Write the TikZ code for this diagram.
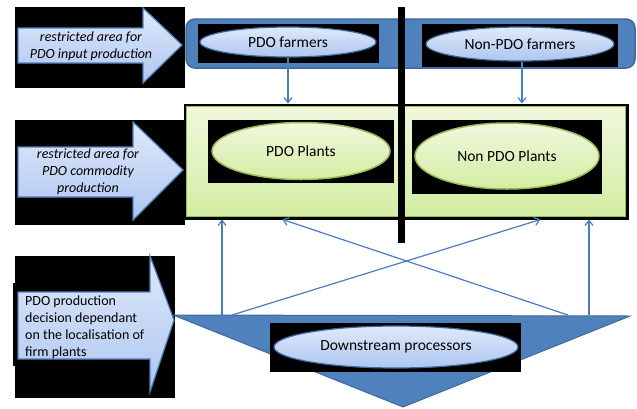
\documentclass[tikz,border=0pt]{standalone}
\usepackage{fontspec}
\setmainfont{Carlito}
\usetikzlibrary{arrows.meta,shapes.geometric}
\definecolor{acc}{HTML}{4F81BD}
\definecolor{accd}{HTML}{3C6A9E}
\definecolor{lb1}{HTML}{DFE9FA}
\definecolor{lb2}{HTML}{AEC6F0}
\definecolor{lg1}{HTML}{F0F8DE}
\definecolor{lg2}{HTML}{D3EDA2}
\definecolor{gbd}{HTML}{9BBB59}
\definecolor{conn}{HTML}{4A7EBB}
\begin{document}
\begin{tikzpicture}[x=1pt,y=-1pt,
  blk/.style={fill=black,draw=none},
  bigarrow/.style={top color=lb1,bottom color=lb2,draw=acc,line width=1.2},
  blueell/.style={ellipse,inner sep=0,top color=lb1,bottom color=lb2,draw=accd,line width=1.2,font=\fontsize{15.5}{18}\selectfont},
  greenell/.style={ellipse,inner sep=0,top color=lg1,bottom color=lg2,draw=gbd,line width=1.5,font=\fontsize{15.5}{18}\selectfont},
  atext/.style={inner sep=0,font=\fontsize{14}{17}\selectfont},
  conline/.style={draw=conn,line width=1.2,-{Straight Barb[length=5pt,width=8pt]}}]
\useasboundingbox[fill=white] (0,0) rectangle (637,408);

% left arrows
\fill[blk] (15,7) rectangle (185,88);
\path[bigarrow] (18,28) -- (143,28) -- (143,8) -- (182,45) -- (143,83) -- (143,63) -- (18,63) -- cycle;
\node[atext,align=center] (a1) at (91,46) {\itshape restricted area for\\\itshape PDO input production};

\fill[blk] (15,120) rectangle (185,225);
\path[bigarrow] (18,147) -- (133,147) -- (133,122) -- (183,170) -- (133,220) -- (133,197) -- (18,197) -- cycle;
\node[atext,align=center] (a2) at (88,172) {\itshape restricted area for\\\itshape PDO commodity\\\itshape production};

\fill[blk] (15,256) rectangle (175,398);
\fill[blk] (13,283) rectangle (20,366);
\path[bigarrow] (18,292) -- (150,292) -- (150,256) -- (174,320) -- (150,392) -- (150,359) -- (18,359) -- cycle;
\node[atext,align=left,anchor=west] (a3) at (25,327) {PDO production\\decision dependant\\on the localisation of\\firm plants};

% top farmers band
\draw[fill=acc,draw=accd,line width=1.5,rounded corners=9] (186,19) rectangle (635,68);
\fill[blk] (198,24) rectangle (379,63);
\fill[blk] (422,24) rectangle (618,67);
\node[blueell,minimum width=176,minimum height=30] (pf) at (288,42) {PDO farmers};
\node[blueell,minimum width=188,minimum height=34] (npf) at (520,44) {Non-PDO farmers};

% plants box
\node[draw=black,line width=3,top color=lg1,bottom color=lg2,inner sep=0,minimum width=442,minimum height=113] (gbox) at (406,161.5) {};
\draw[gbd,line width=1] ([shift={(2.8,2.8)}]gbox.north west) rectangle ([shift={(-2.8,-2.8)}]gbox.south east);
\fill[blk] (208,120) rectangle (394,183);
\fill[blk] (412,120) rectangle (602,194);
\node[greenell,minimum width=178,minimum height=57] (pp) at (301,151) {PDO Plants};
\node[greenell,minimum width=184,minimum height=66] (npp) at (507,156) {Non PDO Plants};

% farmers to plants
\draw[conline] (pf.south) -- (pf.south |- gbox.north);
\draw[conline] ([xshift=2]npf.south) -- ([xshift=2]npf.south |- gbox.north);

% separating line
\draw[black,line width=7] (401,7) -- (401,243);

% downstream triangle
\path[fill=acc,draw=accd,line width=1] (173,315) coordinate (tl) -- (630,316) coordinate (tr) -- (403,407) coordinate (tb) -- cycle;
\fill[blk] (270,323) rectangle (521,372);
\node[blueell,minimum width=244,minimum height=42] (ds) at (396,347) {Downstream processors};

% connectors to plants
\coordinate (d1) at (222,315);
\coordinate (d2) at (232,315);
\coordinate (d3) at (568,315);
\coordinate (d4) at (589,315);
\draw[conline] (d1) -- (d1 |- gbox.south);
\draw[conline] (d2) -- ([xshift=-88]gbox.south east);
\draw[conline] (d3) -- ([xshift=99]gbox.south west);
\draw[conline] (d4) -- (d4 |- gbox.south);
\end{tikzpicture}
\end{document}
